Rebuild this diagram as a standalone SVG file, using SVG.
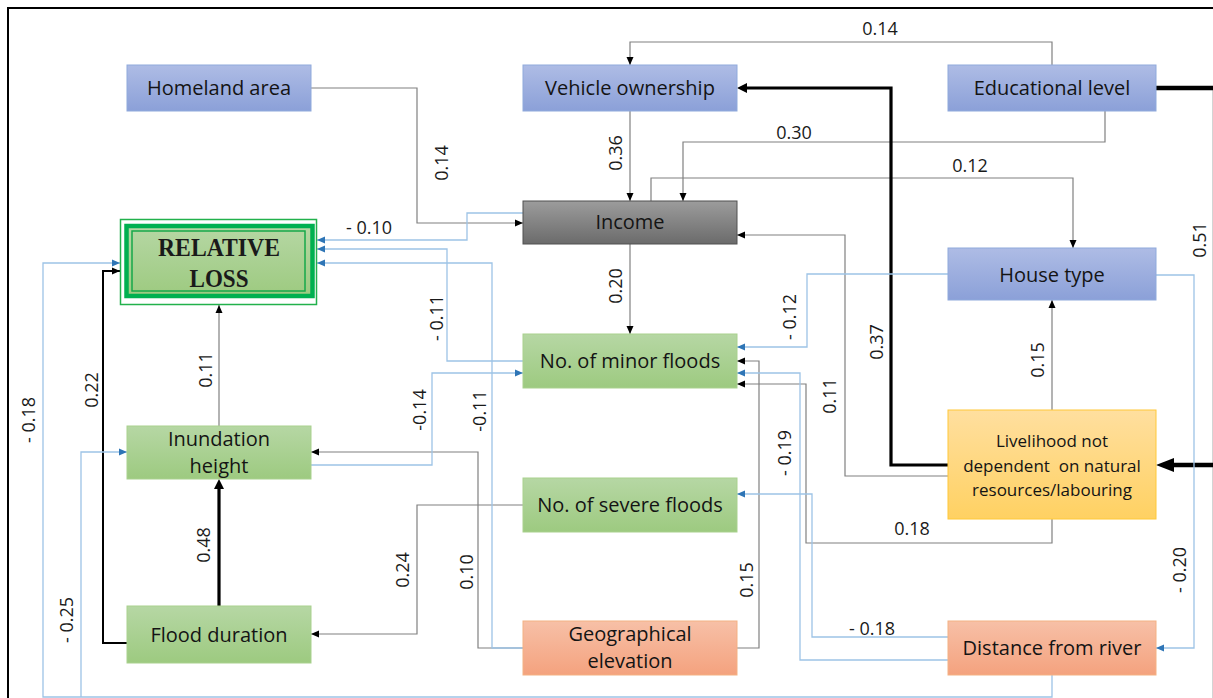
<svg xmlns="http://www.w3.org/2000/svg" width="1213" height="698" viewBox="0 0 1213 698">
<defs>
<style>
.n{font-family:"Open Sans","Liberation Sans",sans-serif;font-size:20px;fill:#141414;text-anchor:middle}
.ns{font-family:"Open Sans","Liberation Sans",sans-serif;font-size:17px;fill:#141414;text-anchor:middle}
.l{font-family:"Open Sans","Liberation Sans",sans-serif;font-size:18px;fill:#1a1a1a;text-anchor:middle}
.g{fill:none;stroke:#808080;stroke-width:1.2}
.k{fill:none;stroke:#000;stroke-width:2}
.t{fill:none;stroke:#000;stroke-width:3.2}
.T{fill:none;stroke:#000;stroke-width:4.5}
.b{fill:none;stroke:#9dc3e6;stroke-width:1.3}
.blue{fill:url(#gB);stroke:#8faadc;stroke-width:1}
.green{fill:url(#gG);stroke:#a9d18e;stroke-width:1}
.orange{fill:url(#gO);stroke:#f4b183;stroke-width:1}
</style>
<linearGradient id="gB" x1="0" y1="0" x2="0" y2="1"><stop offset="0" stop-color="#aebce5"/><stop offset="1" stop-color="#8ba0d8"/></linearGradient>
<linearGradient id="gG" x1="0" y1="0" x2="0" y2="1"><stop offset="0" stop-color="#b6d7a4"/><stop offset="1" stop-color="#9dca80"/></linearGradient>
<linearGradient id="gO" x1="0" y1="0" x2="0" y2="1"><stop offset="0" stop-color="#f7c0a7"/><stop offset="1" stop-color="#f4a27e"/></linearGradient>
<linearGradient id="gY" x1="0" y1="0" x2="0" y2="1"><stop offset="0" stop-color="#ffdf9f"/><stop offset="1" stop-color="#ffd162"/></linearGradient>
<linearGradient id="gK" x1="0" y1="0" x2="0" y2="1"><stop offset="0" stop-color="#9c9c9c"/><stop offset="1" stop-color="#6b6b6b"/></linearGradient>
<marker id="mk" viewBox="0 0 8 8" refX="8" refY="4" markerWidth="8" markerHeight="8" orient="auto" markerUnits="userSpaceOnUse"><path d="M0,0.5 L8,4 L0,7.5z" fill="#000"/></marker>
<marker id="mb" viewBox="0 0 8 8" refX="8" refY="4" markerWidth="8" markerHeight="8" orient="auto" markerUnits="userSpaceOnUse"><path d="M0,0.5 L8,4 L0,7.5z" fill="#2e75b6"/></marker>
<marker id="mt" viewBox="0 0 10 10" refX="0" refY="5" markerWidth="10" markerHeight="10" orient="auto" markerUnits="userSpaceOnUse"><path d="M0,0 L10,5 L0,10z" fill="#000"/></marker>
<marker id="mT" viewBox="0 0 18 14" refX="0" refY="7" markerWidth="18" markerHeight="14" orient="auto" markerUnits="userSpaceOnUse"><path d="M0,0 L18,7 L0,14z" fill="#000"/></marker>
</defs>
<rect width="1213" height="698" fill="#fff"/>
<path d="M8,698 V8 H1213" fill="none" stroke="#000" stroke-width="2"/>
<line x1="1212.5" y1="88" x2="1212.5" y2="698" stroke="#d4d4d4" stroke-width="1"/>

<g id="connectors">
<path class="g" d="M1052,65 V42 H630 V65" marker-end="url(#mk)"/>
<path class="g" d="M1105,111 V142 H683 V201" marker-end="url(#mk)"/>
<path class="g" d="M651,201 V178 H1073 V248" marker-end="url(#mk)"/>
<path class="g" d="M311,88 H417 V223 H523" marker-end="url(#mk)"/>
<path class="g" d="M630,111 V201" marker-end="url(#mk)"/>
<path class="g" d="M630,244 V334" marker-end="url(#mk)"/>
<path class="g" d="M948,476 H845 V235 H737" marker-end="url(#mk)"/>
<path class="g" d="M1052,410 V300" marker-end="url(#mk)"/>
<path class="g" d="M1052,519 V543 H806 V384 H737" marker-end="url(#mk)"/>
<path class="g" d="M737,648 H759 V361 H737" marker-end="url(#mk)"/>
<path class="g" d="M523,648 H478 V452 H311" marker-end="url(#mk)"/>
<path class="g" d="M523,505 H417 V634 H311" marker-end="url(#mk)"/>
<path class="g" d="M219,426 V305" marker-end="url(#mk)"/>
<path class="k" d="M127,643 H103 V271 H120" marker-end="url(#mk)"/>
<path class="t" d="M219,606 V489" marker-end="url(#mt)"/>
<path class="t" d="M948,465 H891 V88 H747" marker-end="url(#mt)"/>
<path class="T" d="M1156,88 H1213"/>
<path class="T" d="M1213,465 H1174" marker-end="url(#mT)"/>
<path class="b" d="M523,213 H467 V240 H317" marker-end="url(#mb)"/>
<path class="b" d="M523,361 H447 V249 H317" marker-end="url(#mb)"/>
<path class="b" d="M523,648 H492 V263 H317" marker-end="url(#mb)"/>
<path class="b" d="M311,465 H432 V373 H523" marker-end="url(#mb)"/>
<path class="b" d="M948,274 H807 V347 H737" marker-end="url(#mb)"/>
<path class="b" d="M948,660 H800 V373 H737" marker-end="url(#mb)"/>
<path class="b" d="M948,637 H812 V494 H737" marker-end="url(#mb)"/>
<path class="b" d="M1156,275 H1194 V648 H1156" marker-end="url(#mb)"/>
<path class="b" d="M1052,675 V697 H43 V263 H120" marker-end="url(#mb)"/>
<path class="b" d="M81,697 V452 H127" marker-end="url(#mb)"/>

<text class="l" x="880" y="35">0.14</text>
<text class="l" x="794" y="139">0.30</text>
<text class="l" x="970" y="172">0.12</text>
<text class="l" x="369" y="234">- 0.10</text>
<text class="l" x="912" y="535">0.18</text>
<text class="l" x="872" y="635">- 0.18</text>
<text class="l" transform="translate(1200,240) rotate(-90)" y="6">0.51</text>
<text class="l" transform="translate(442,163) rotate(-90)" y="6">0.14</text>
<text class="l" transform="translate(616,153) rotate(-90)" y="6">0.36</text>
<text class="l" transform="translate(616,286) rotate(-90)" y="6">0.20</text>
<text class="l" transform="translate(437,318) rotate(-90)" y="6">- 0.11</text>
<text class="l" transform="translate(480,411) rotate(-90)" y="6">-0.11</text>
<text class="l" transform="translate(420,410) rotate(-90)" y="6">-0.14</text>
<text class="l" transform="translate(467,572) rotate(-90)" y="6">0.10</text>
<text class="l" transform="translate(403,570) rotate(-90)" y="6">0.24</text>
<text class="l" transform="translate(747,580) rotate(-90)" y="6">0.15</text>
<text class="l" transform="translate(785,453) rotate(-90)" y="6">- 0.19</text>
<text class="l" transform="translate(790,317) rotate(-90)" y="6">- 0.12</text>
<text class="l" transform="translate(877,342) rotate(-90)" y="6">0.37</text>
<text class="l" transform="translate(830,396) rotate(-90)" y="6">0.11</text>
<text class="l" transform="translate(1038,360) rotate(-90)" y="6">0.15</text>
<text class="l" transform="translate(1180,570) rotate(-90)" y="6">- 0.20</text>
<text class="l" transform="translate(29,420) rotate(-90)" y="6">- 0.18</text>
<text class="l" transform="translate(92,390) rotate(-90)" y="6">0.22</text>
<text class="l" transform="translate(67,620) rotate(-90)" y="6">- 0.25</text>
<text class="l" transform="translate(206,370) rotate(-90)" y="6">0.11</text>
<text class="l" transform="translate(204,545) rotate(-90)" y="6">0.48</text>
</g>

<g id="homeland-area"><rect class="blue" x="127" y="65" width="184" height="46"/><text class="n" x="219" y="95">Homeland area</text></g>
<g id="vehicle-ownership"><rect class="blue" x="523" y="65" width="214" height="46"/><text class="n" x="630" y="95">Vehicle ownership</text></g>
<g id="educational-level"><rect class="blue" x="948" y="65" width="208" height="46"/><text class="n" x="1052" y="95">Educational level</text></g>
<g id="income"><rect x="523" y="201" width="214" height="43" fill="url(#gK)" stroke="#505050" stroke-width="1"/><text class="n" x="630" y="229">Income</text></g>
<g id="house-type"><rect class="blue" x="948" y="248" width="208" height="52"/><text class="n" x="1052" y="282">House type</text></g>
<g id="relative-loss">
<rect x="120.5" y="219.5" width="196" height="85" fill="#fff" stroke="#22b14c" stroke-width="1.5"/>
<rect x="126.5" y="226" width="186" height="70" fill="url(#gG)" stroke="#00b050" stroke-width="4.5"/>
<rect x="132" y="231" width="173" height="60" fill="none" stroke="#16a84a" stroke-width="1.5"/>
<text x="219" y="256" font-family="Liberation Serif, serif" font-weight="bold" font-size="25" fill="#1a1a1a" text-anchor="middle" textLength="122" lengthAdjust="spacingAndGlyphs">RELATIVE</text>
<text x="219" y="287" font-family="Liberation Serif, serif" font-weight="bold" font-size="25" fill="#1a1a1a" text-anchor="middle" textLength="59" lengthAdjust="spacingAndGlyphs">LOSS</text>
</g>
<g id="minor-floods"><rect class="green" x="523" y="334" width="214" height="54"/><text class="n" x="630" y="368">No. of minor floods</text></g>
<g id="severe-floods"><rect class="green" x="523" y="478" width="214" height="54"/><text class="n" x="630" y="512">No. of severe floods</text></g>
<g id="geographical-elevation"><rect class="orange" x="523" y="621" width="214" height="54"/><text class="n" x="630" y="641">Geographical</text><text class="n" x="630" y="668">elevation</text></g>
<g id="inundation-height"><rect class="green" x="127" y="426" width="184" height="53"/><text class="n" x="219" y="446">Inundation</text><text class="n" x="219" y="473">height</text></g>
<g id="flood-duration"><rect class="green" x="127" y="606" width="184" height="57"/><text class="n" x="219" y="642">Flood duration</text></g>
<g id="livelihood"><rect x="948" y="410" width="208" height="109" fill="url(#gY)" stroke="#ffc838" stroke-width="1"/><text class="ns" x="1052" y="447">Livelihood not</text><text class="ns" x="1052" y="472" xml:space="preserve">dependent  on natural</text><text class="ns" x="1052" y="496">resources/labouring</text></g>
<g id="distance-from-river"><rect class="orange" x="948" y="621" width="208" height="54"/><text class="n" x="1052" y="655">Distance from river</text></g>
</svg>
